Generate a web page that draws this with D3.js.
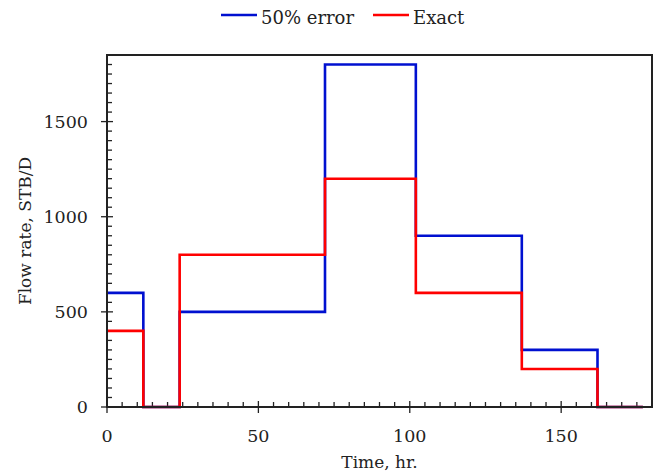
<!DOCTYPE html>
<html>
<head>
<meta charset="utf-8">
<script src="https://cdn.jsdelivr.net/npm/d3@7"></script>
<style>
  html, body { margin: 0; padding: 0; background: #fff; }
  svg text { font-family: "DejaVu Serif", serif; fill: #222; }
</style>
</head>
<body>
<svg id="chart" width="659" height="473"></svg>
<script>
// Step schedules: rate holds from each time until the next one
const times = [0, 12, 24, 72, 102, 137, 162, 177];
const rateError = [600, 0, 500, 1800, 900, 300, 0, 0];
const rateExact = [400, 0, 800, 1200, 600, 200, 0, 0];
const seriesNames = ["50% error", "Exact"];
const seriesColors = ["#0010d0", "#ff0000"];
const xTicks = [0, 50, 100, 150];
const yTicks = [0, 500, 1000, 1500];

const svg = d3.select("#chart");
const plot = { left: 107, right: 652, top: 55, bottom: 407 };

const x = d3.scaleLinear().domain([0, 180]).range([plot.left, plot.right]);
const y = d3.scaleLinear().domain([0, 1850]).range([plot.bottom, plot.top]);

const tickFont = 17.5;
const titleFont = 17;
const legendFont = 18;
const axisColor = "#222";

// Minor ticks pointing into the plot
const xMinor = d3.range(0, 181, 5).filter(v => v % 50 !== 0);
const yMinor = d3.range(0, 1851, 50).filter(v => v % 500 !== 0);

const ticks = svg.append("g").attr("stroke", axisColor).attr("stroke-width", 1.3);
ticks.selectAll(".xm").data(xMinor).join("line")
  .attr("x1", d => x(d)).attr("x2", d => x(d))
  .attr("y1", plot.bottom).attr("y2", plot.bottom - 5);
ticks.selectAll(".ym").data(yMinor).join("line")
  .attr("x1", plot.left).attr("x2", plot.left + 5)
  .attr("y1", d => y(d)).attr("y2", d => y(d));
// Major ticks crossing the axis line
ticks.selectAll(".xM").data(xTicks).join("line")
  .attr("x1", d => x(d)).attr("x2", d => x(d))
  .attr("y1", plot.bottom - 6).attr("y2", plot.bottom + 6);
ticks.selectAll(".yM").data(yTicks).join("line")
  .attr("x1", plot.left - 6).attr("x2", plot.left + 6)
  .attr("y1", d => y(d)).attr("y2", d => y(d));

// Tick labels
svg.append("g").selectAll("text").data(xTicks).join("text")
  .attr("x", d => x(d)).attr("y", 442)
  .attr("text-anchor", "middle").attr("font-size", tickFont)
  .text(d => d);
svg.append("g").selectAll("text").data(yTicks).join("text")
  .attr("x", 88).attr("y", d => y(d) + 6)
  .attr("text-anchor", "end").attr("font-size", tickFont)
  .text(d => d);

// Step lines
const line = d3.line()
  .x(d => x(d[0]))
  .y(d => y(d[1]))
  .curve(d3.curveStepAfter);

[rateError, rateExact].forEach((vals, i) => {
  svg.append("path")
    .datum(times.map((t, k) => [t, vals[k]]))
    .attr("fill", "none")
    .attr("stroke", seriesColors[i])
    .attr("stroke-width", 2.6)
    .attr("d", line);
});

// Plot frame
svg.append("rect")
  .attr("x", plot.left).attr("y", plot.top)
  .attr("width", plot.right - plot.left).attr("height", plot.bottom - plot.top)
  .attr("fill", "none").attr("stroke", axisColor).attr("stroke-width", 2);

// Axis titles
svg.append("text")
  .attr("x", (plot.left + plot.right) / 2).attr("y", 468)
  .attr("text-anchor", "middle").attr("font-size", titleFont)
  .text("Time, hr.");
svg.append("text")
  .attr("transform", `translate(31, ${(plot.top + plot.bottom) / 2}) rotate(-90)`)
  .attr("text-anchor", "middle").attr("font-size", titleFont)
  .text("Flow rate, STB/D");

// Legend
const legendItems = [
  { x1: 221, x2: 257, tx: 261 },
  { x1: 373, x2: 409, tx: 413 }
];
const legend = svg.append("g");
legendItems.forEach((it, i) => {
  legend.append("line")
    .attr("x1", it.x1).attr("x2", it.x2).attr("y1", 15).attr("y2", 15)
    .attr("stroke", seriesColors[i]).attr("stroke-width", 2.6);
  legend.append("text")
    .attr("x", it.tx).attr("y", 24).attr("font-size", legendFont)
    .text(seriesNames[i]);
});
</script>
</body>
</html>
